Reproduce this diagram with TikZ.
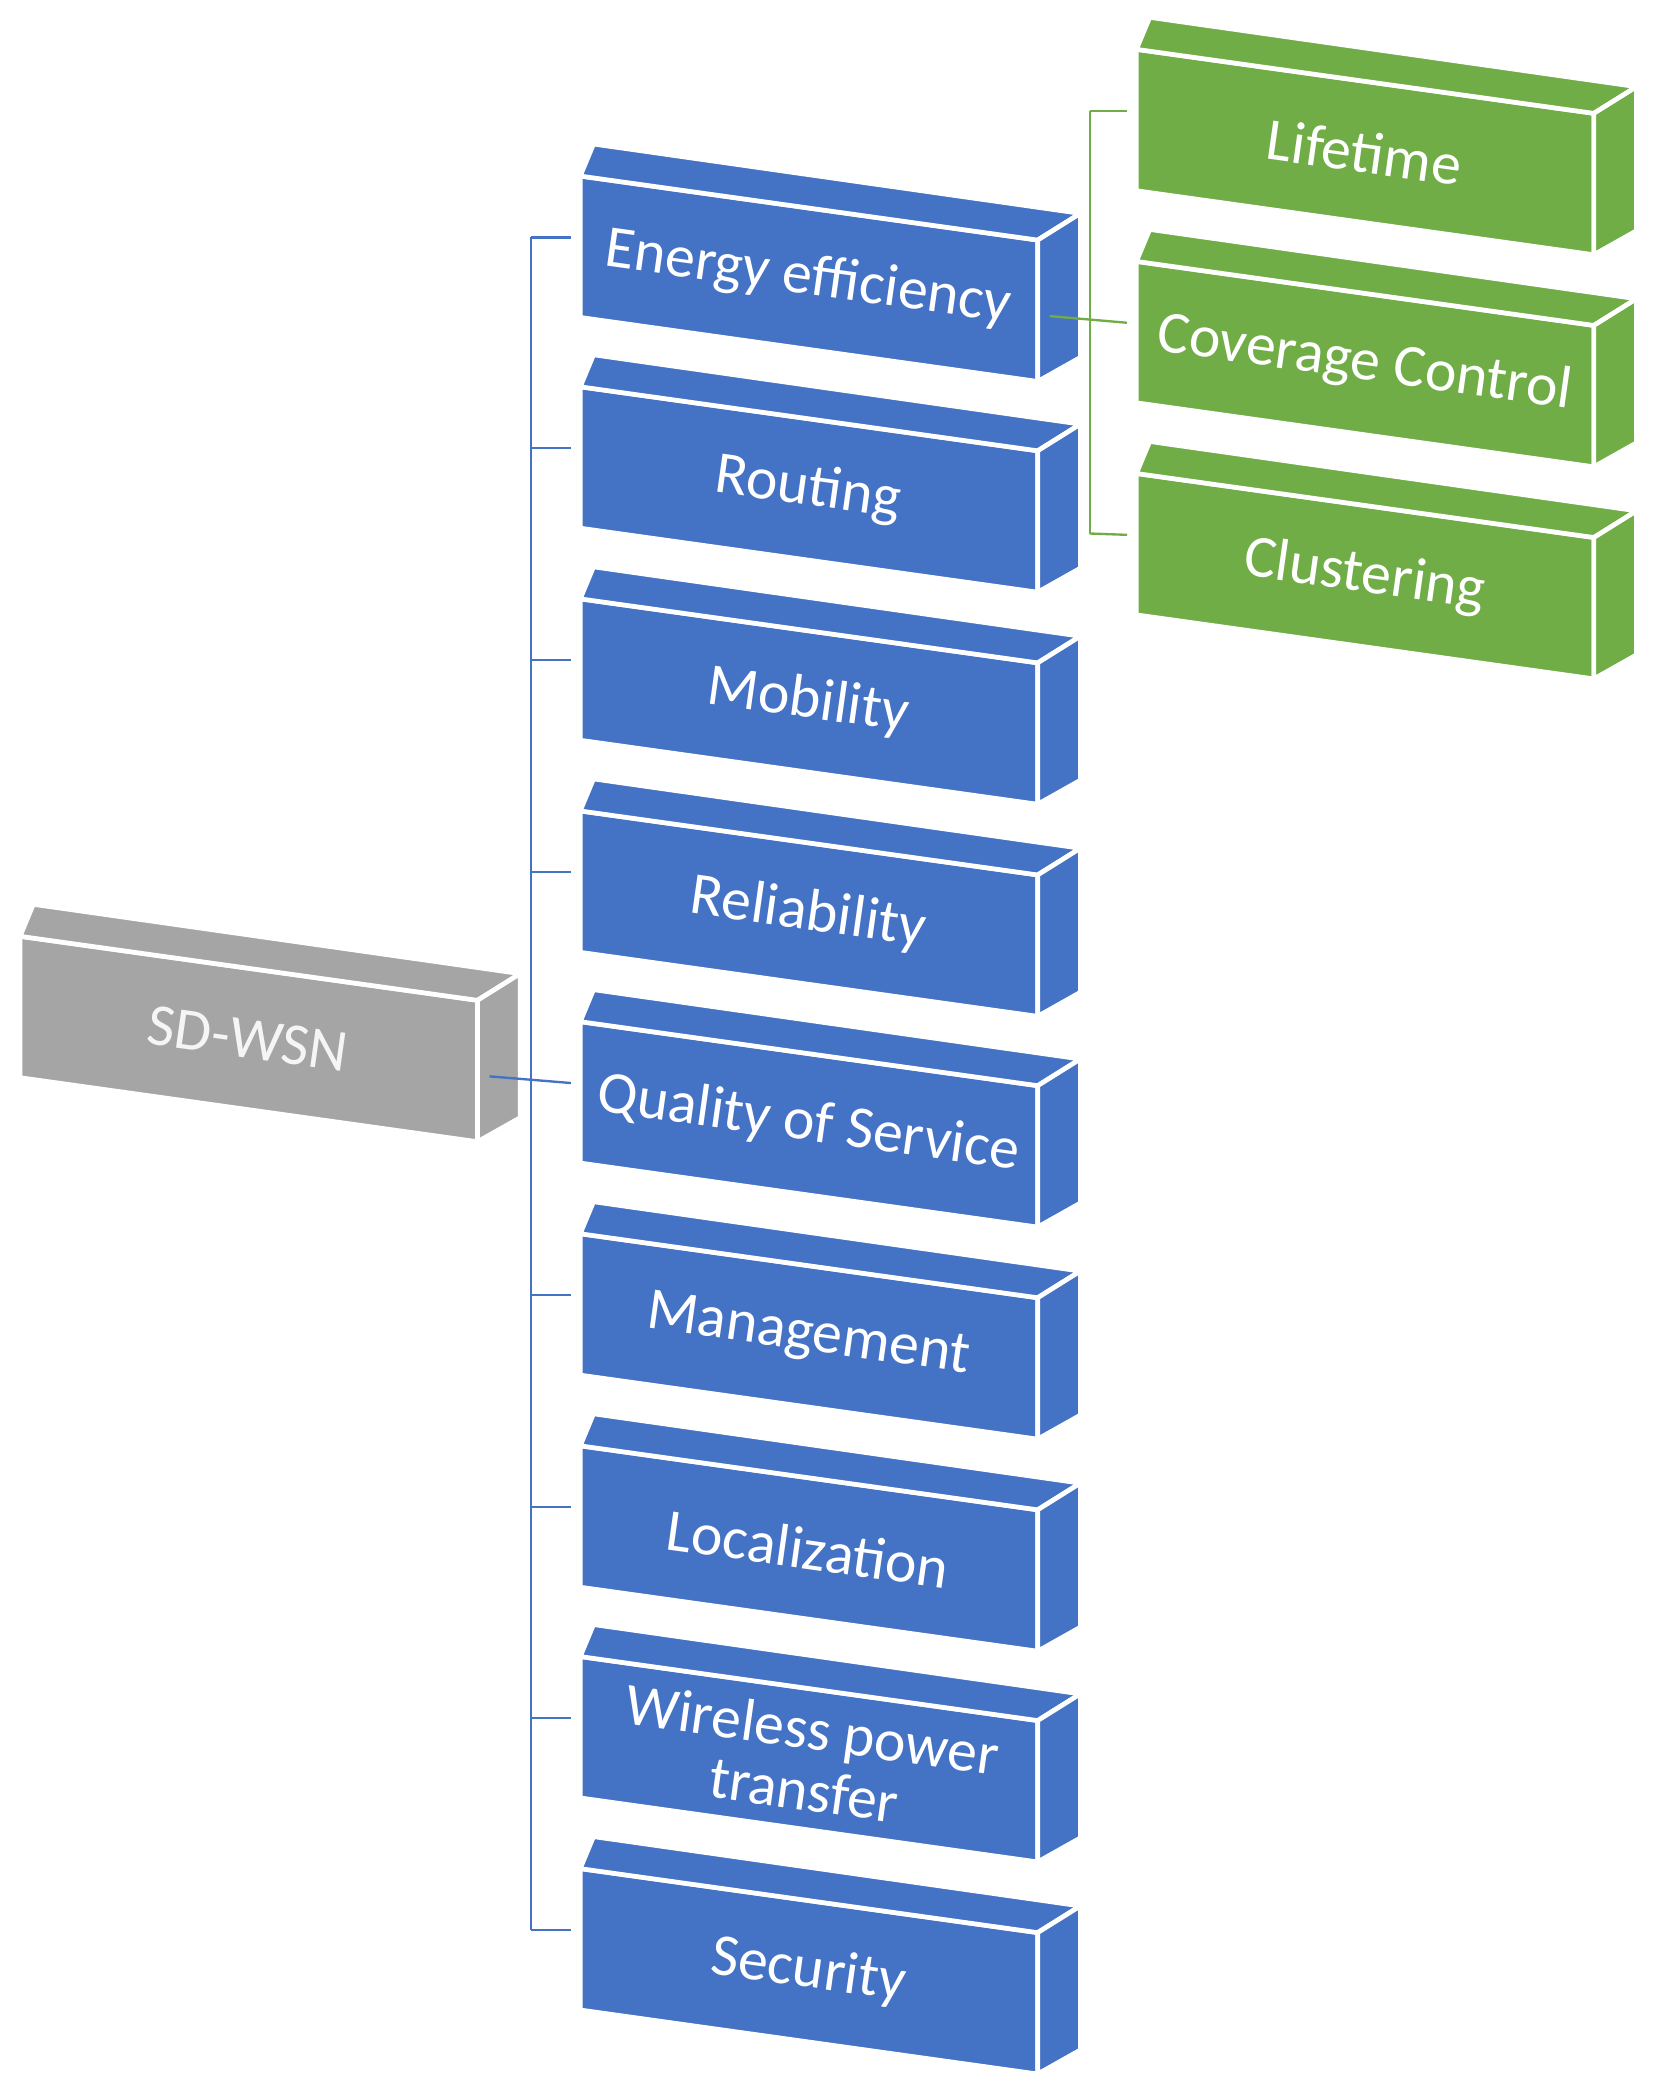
\documentclass[tikz,border=0pt]{standalone}
\usepackage{fontspec}
\setmainfont{Carlito}
\definecolor{bl}{HTML}{4472C4}
\definecolor{gr}{HTML}{70AD47}
\definecolor{gy}{HTML}{A5A5A5}
\newcommand\tbox[6]{%
 \fill[#4,draw=white,line width=2pt,line join=round] (#2,#3)--({#2+343},{#3+48})--({#2+343},{#3+154})--(#2,{#3+106})--cycle;
 \fill[#4,draw=white,line width=2pt,line join=round] (#2,#3)--({#2+10},{#3-24})--({#2+375},{#3+28})--({#2+343},{#3+48})--cycle;
 \fill[#4,draw=white,line width=2pt,line join=round] ({#2+343},{#3+48})--({#2+375},{#3+28})--({#2+375},{#3+136})--({#2+343},{#3+154})--cycle;
 \node[txt,text=#6] (#1) at ({#2+171},{#3+77}) {#5};
 \coordinate (#1-l) at ({#2-7},{#3+46});
 \coordinate (#1-r) at ({#2+352},{#3+105});
}
\tikzset{txt/.style={rotate=-8,font=\fontsize{25.5}{26}\selectfont,align=center,inner sep=0pt},
 con/.style={line width=1pt}}
\begin{document}
\begin{tikzpicture}[x=0.02cm,y=-0.02cm]
\useasboundingbox (0,0) rectangle (1245,1564);
\fill[white] (0,0) rectangle (1245,1564);
\tbox{sd}{15}{702}{gy}{SD-WSN}{white!92!gray}
\tbox{en}{435}{132}{bl}{Energy efficiency}{white}
\tbox{ro}{435}{290}{bl}{Routing}{white}
\tbox{mo}{435}{449}{bl}{Mobility}{white}
\tbox{re}{435}{608}{bl}{Reliability}{white}
\tbox{qo}{435}{766}{bl}{Quality of Service}{white}
\tbox{ma}{435}{925}{bl}{Management}{white}
\tbox{lo}{435}{1084}{bl}{Localization}{white}
\tbox{wi}{435}{1242}{bl}{Wireless power\\transfer}{white}
\tbox{se}{435}{1401}{bl}{Security}{white}
\tbox{li}{852}{37}{gr}{Lifetime}{white}
\tbox{co}{852}{196}{gr}{Coverage Control}{white}
\tbox{cl}{852}{355}{gr}{Clustering}{white}
% blue tree
\coordinate (bt) at (398,178);
\coordinate (bb) at (398,1447);
\draw[con,bl] (bt) -- (bb);
\foreach \n in {en,ro,mo,re,ma,lo,wi,se}{\draw[con,bl] (398,0 |- \n-l) -- (\n-l);}
\draw[con,bl] (sd-r) -- (qo-l);
% green tree
\coordinate (gt) at (817,83);
\coordinate (gb) at (817,400);
\draw[con,gr] (gt) -- (gb);
\draw[con,gr] (gt) -- (li-l);
\draw[con,gr] (gb) -- (cl-l);
\draw[con,gr] (en-r) -- (co-l);
\end{tikzpicture}
\end{document}
